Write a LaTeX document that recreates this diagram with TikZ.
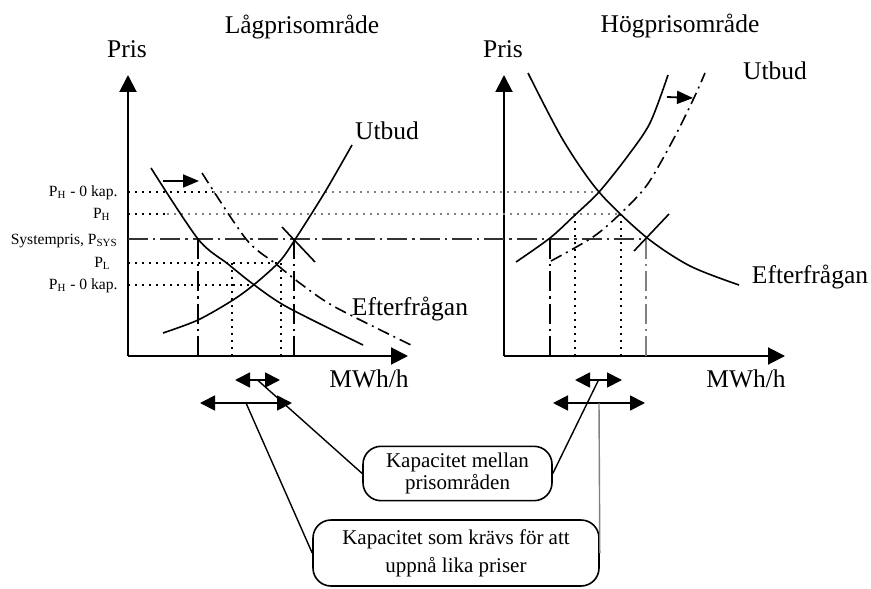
\documentclass[tikz,border=0pt]{standalone}
\usepackage{fontspec}
\setmainfont{Liberation Serif}
\usetikzlibrary{arrows.meta}
\tikzset{
  >={Triangle[length=7.5pt,width=7.5pt]},
  axis/.style={line width=1pt,-{Triangle[length=8.5pt,width=8.5pt]}},
  curve/.style={line width=0.8pt},
  shiftcurve/.style={line width=0.8pt,dash pattern=on 6pt off 2.5pt on 1pt off 2.5pt},
  shiftarrow/.style={line width=0.9pt,-{Triangle[length=8pt,width=6.5pt]}},
  pricegrid/.style={line width=0.7pt,dash pattern=on 0.8pt off 2.7pt},
  syslevel/.style={line width=0.9pt,dash pattern=on 10pt off 2.5pt on 1.2pt off 2.5pt},
  span/.style={line width=0.9pt,<->},
  lbl/.style={font=\fontsize{12.75}{15}\selectfont,inner sep=0pt,anchor=base},
  ticklbl/.style={font=\fontsize{7.8}{9}\selectfont,inner sep=0pt,anchor=base east},
  note/.style={draw,line width=0.8pt,rounded corners=9pt,align=center,
    font=\fontsize{10.5}{11}\selectfont},
  lead/.style={line width=0.7pt},
}
\begin{document}
\begin{tikzpicture}[x=0.5pt,y=-0.5pt]
  \useasboundingbox (0,0) rectangle (871,588);
  % axes
  \draw[axis] (128,356) -- (128,75);
  \draw[axis] (128,356) -- (408,356);
  \draw[axis] (504,356) -- (504,75);
  \draw[axis] (504,356) -- (785,356);
  % price levels
  \draw[pricegrid] (128,192) -- (213,192);
  \draw[pricegrid,gray] (213,192) -- (599,192);
  \draw[pricegrid] (128,214) -- (167,214);
  \draw[pricegrid,gray] (167,214) -- (620,214);
  \draw[syslevel,black!80] (128,239) -- (646,239);
  \draw[pricegrid] (128,263) -- (281,263);
  \draw[pricegrid] (128,285) -- (253,285);
  % quantities
  \draw[syslevel] (198,239) -- (198,356);
  \draw[pricegrid] (232,263) -- (232,356);
  \draw[pricegrid] (281,263) -- (281,356);
  \draw[syslevel] (294,239) -- (294,356);
  \draw[syslevel] (550,239) -- (550,356);
  \draw[pricegrid] (575,214) -- (575,356);
  \draw[pricegrid] (621,214) -- (621,356);
  \draw[syslevel,gray] (646,239) -- (646,356);
  % low price area
  \draw[curve] plot[smooth] coordinates {(151,168) (198,239) (228,264) (253,284) (287,307) (363,345)};
  \draw[shiftcurve] plot[smooth] coordinates {(202,173) (246,239) (276,264) (301,284) (335,307) (411,345)};
  \draw[curve] plot[smooth] coordinates {(163,333) (198,320) (233,300) (256,283) (280,261) (296,238) (325,192) (352,145)};
  \draw[curve] (282,227) -- (315,262);
  \draw[shiftarrow] (163,181) -- (199,181);
  % high price area
  \draw[curve] plot[smooth] coordinates {(528,73) (563,140) (599,192) (646,237) (690,266) (739,285)};
  \draw[curve] plot[smooth] coordinates {(516,262) (550,238) (575,215) (599,192) (627,157) (650,123) (668,75)};
  \draw[shiftcurve] plot[smooth] coordinates {(551,261) (593,237) (620,214) (647,185) (673,140) (693,100) (705,73)};
  \draw[curve] (634,251) -- (669,214);
  \draw[shiftarrow] (667,97) -- (693,98);
  % labels
  \node[lbl] (lowtitle) at (302,34) {Lågprisområde};
  \node[lbl] (hightitle) at (680,33) {Högprisområde};
  \node[lbl] (lpris) at (127,58) {Pris};
  \node[lbl] (hpris) at (503,58) {Pris};
  \node[lbl] (lutbud) at (387,140) {Utbud};
  \node[lbl] (hutbud) at (775,80) {Utbud};
  \node[lbl] (lefter) at (410,315) {Efterfrågan};
  \node[lbl] (hefter) at (810,283) {Efterfrågan};
  \node[lbl] (lmwh) at (369,387) {MWh/h};
  \node[lbl] (hmwh) at (746,387) {MWh/h};
  \node[ticklbl] (phtop) at (118,197) {P\textsubscript{H} - 0 kap.};
  \node[ticklbl] (ph) at (111,219) {P\textsubscript{H}};
  \node[ticklbl] (psys) at (118,244) {Systempris, P\textsubscript{SYS}};
  \node[ticklbl] (pl) at (111,267) {P\textsubscript{L}};
  \node[ticklbl] (phlow) at (118,289) {P\textsubscript{H} - 0 kap.};
  % capacities
  \coordinate (lsA) at (235,380); \coordinate (lsB) at (280,380);
  \coordinate (lbA) at (200,403); \coordinate (lbB) at (292,403);
  \coordinate (rsA) at (575,380); \coordinate (rsB) at (622,380);
  \coordinate (rbA) at (553,403); \coordinate (rbB) at (645,403);
  \draw[span] (lsA) -- node[coordinate] (lsm) {} (lsB);
  \draw[span] (lbA) -- node[coordinate] (lbm) {} (lbB);
  \draw[span] (rsA) -- node[coordinate] (rsm) {} (rsB);
  \draw[span] (rbA) -- node[coordinate] (rbm) {} (rbB);
  \node[note,minimum width=94.5pt,minimum height=23.5pt] (cap1) at (457.5,473.5) {Kapacitet mellan\\prisområden};
  \node[note,minimum width=143pt,minimum height=33pt,font=\fontsize{10.5}{14}\selectfont] (cap2) at (456,553) {Kapacitet som krävs för att\\uppnå lika priser};
  \draw[lead] (lsm) -- (cap1.west);
  \draw[lead] (rsm) -- (cap1.east);
  \draw[lead] (lbm) -- (cap2.west);
  \draw[lead,gray] (rbm) -- (cap2.east);
\end{tikzpicture}
\end{document}
